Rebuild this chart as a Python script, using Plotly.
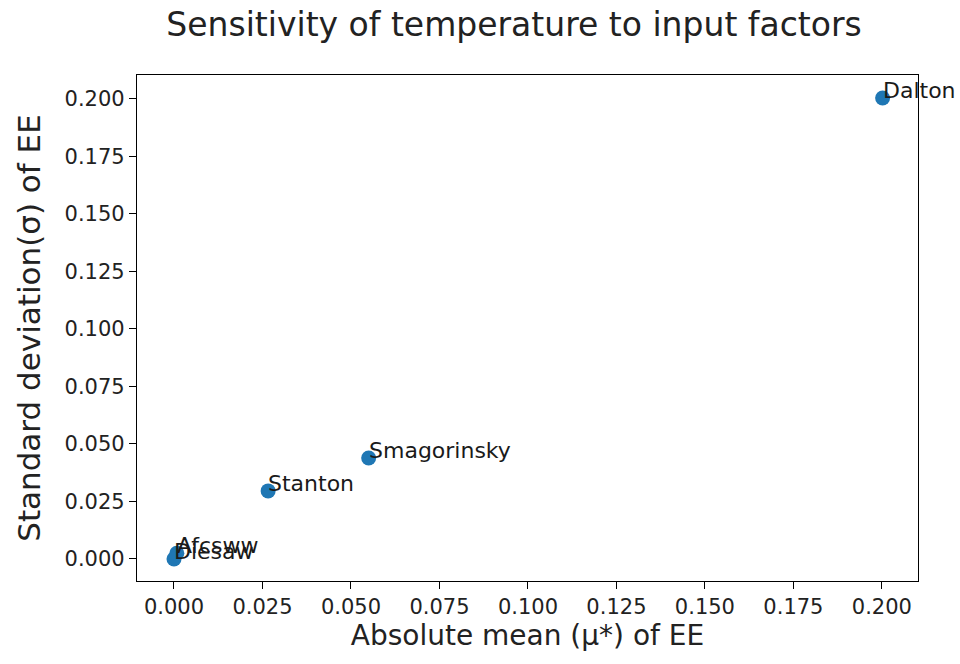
import plotly.graph_objects as go

# Elementary-effects screening results: mean of |EE| vs. std of EE per factor
factors = ["Dalton", "Smagorinsky", "Stanton", "Afcsww", "Diesaw"]
mu_star = [0.2002, 0.0550, 0.0266, 0.0008, 0.0000]
sigma = [0.2004, 0.0439, 0.0296, 0.0025, 0.0000]

x_ticks = [0.000, 0.025, 0.050, 0.075, 0.100, 0.125, 0.150, 0.175, 0.200]
y_ticks = [0.000, 0.025, 0.050, 0.075, 0.100, 0.125, 0.150, 0.175, 0.200]

FONT = "DejaVu Sans"
BLUE = "#1f77b4"
INK = "#222222"

fig = go.Figure()
fig.add_trace(go.Scatter(
    x=mu_star, y=sigma, mode="markers",
    marker=dict(size=15, color=BLUE, line=dict(width=0)),
    showlegend=False, hoverinfo="skip",
))

for name, xv, yv in zip(factors, mu_star, sigma):
    fig.add_annotation(
        x=xv, y=yv, text=name, showarrow=False,
        xanchor="left", yanchor="bottom", xshift=-2, yshift=-7,
        font=dict(family=FONT, size=22, color="#1a1a1a"),
    )

axis_common = dict(
    showgrid=False, zeroline=False, showline=True, linecolor="black",
    linewidth=1.2, mirror=True, ticks="outside", ticklen=7, tickcolor="black",
    tickwidth=1.2,
    tickfont=dict(family=FONT, size=21, color=INK),
    tickformat=".3f",
)

fig.update_layout(
    width=960, height=664,
    margin=dict(l=137, r=42, t=75, b=83),
    paper_bgcolor="white", plot_bgcolor="white",
    title=dict(
        text="Sensitivity of temperature to input factors",
        font=dict(family=FONT, size=33, color=INK),
        x=514 / 960, xanchor="center", y=1 - 24 / 664, yanchor="middle",
    ),
    xaxis=dict(
        axis_common, range=[-0.01045, 0.2102], tickvals=x_ticks,
        title=dict(text="Absolute mean (μ*) of EE", standoff=6,
                   font=dict(family=FONT, size=28, color=INK)),
    ),
    yaxis=dict(
        axis_common, range=[-0.00957, 0.21043], tickvals=y_ticks,
        title=dict(text="Standard deviation(σ) of EE", standoff=14,
                   font=dict(family=FONT, size=31, color=INK)),
    ),
)

fig.write_html("out.html")
